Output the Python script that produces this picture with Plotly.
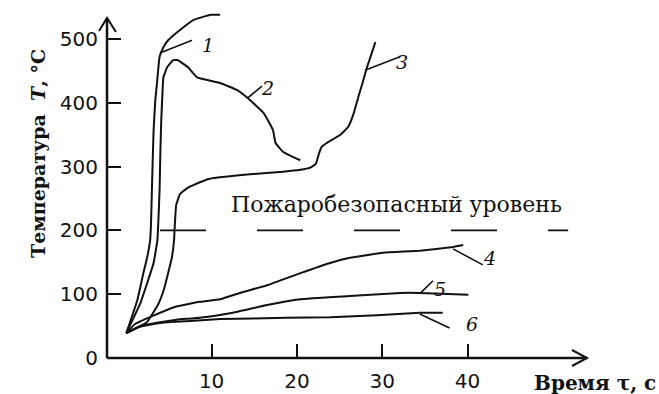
import plotly.graph_objects as go

# Temperature (°C) versus time (s) for six samples
t1 = [0, 1.3, 2.0, 2.45, 2.8, 2.9, 3.0, 3.2, 3.4, 3.6, 3.9, 4.35, 4.9, 6.0, 7.9, 9.9, 11.0]
T1 = [39, 91, 133, 158, 185, 212, 263, 357, 404, 431, 472, 487, 498, 511, 530, 538, 538]

t2 = [0, 1.65, 3.2, 3.65, 3.75, 3.9, 4.0, 4.1, 4.2, 4.35, 4.8, 5.5, 6.0, 7.2, 8.3,
      11.0, 13.0, 14.2, 16.1, 17.2, 17.5, 18.4, 20.4]
T2 = [39, 86, 149, 185, 212, 263, 326, 373, 404, 440, 456, 467, 467, 456, 440,
      431, 420, 408, 384, 357, 337, 323, 310]

t3 = [0, 2.4, 3.7, 4.4, 4.9, 5.35, 5.6, 5.7, 5.85, 6.3, 7.1, 7.85, 9.8, 14.5, 18.4,
      20.4, 21.5, 22.2, 22.6, 22.9, 23.5, 25.1, 26.0, 26.6, 27.2, 27.8, 28.2, 29.2]
T3 = [39, 56, 83, 107, 133, 158, 185, 212, 240, 257, 266, 271, 281, 288, 292,
      295, 298, 304, 321, 331, 337, 350, 362, 381, 409, 436, 455, 495]

t4 = [0, 1.0, 3.1, 5.7, 8.6, 11.0, 13.3, 16.5, 20.4, 23.9, 26.2, 30.1, 34.4, 38.3, 39.5]
T4 = [39, 53, 66, 80, 88, 92, 102, 114, 133, 149, 157, 165, 168, 174, 177]

t5 = [0, 1.6, 3.95, 5.9, 8.6, 12.5, 16.5, 20.4, 26.2, 32.1, 34.4, 40.1]
T5 = [39, 50, 56, 60, 63, 71, 83, 92, 97, 102, 102, 99]

t6 = [0, 1.6, 3.95, 7.5, 11.0, 18.8, 23.9, 29.4, 34.4, 37.1]
T6 = [39, 49, 55, 58, 61, 63, 64, 67, 71, 71]

# Fire-safe temperature level
safe_level = 200
safe_t = [3.95, 51.8]
safe_label = "Пожаробезопасный уровень"

# Curve numbers: label position and leader segment (from curve to label)
curve_names = ["1", "2", "3", "4", "5", "6"]
label_t = [9.6, 16.5, 32.3, 42.6, 36.8, 40.5]
label_T = [491, 423, 464, 157, 108, 53]
leader_t0 = [3.95, 14.27, 27.98, 38.3, 34.5, 34.4]
leader_T0 = [478, 408, 451, 171, 102, 69]
leader_t1 = [7.70, 15.91, 32.08, 41.8, 35.96, 37.9]
leader_T1 = [498, 426, 472, 146, 121, 47]

x_ticks = [10, 20, 30, 40]
y_ticks = [0, 100, 200, 300, 400, 500]

W, H = 659, 394
ML, MR, MT, MB = 107, 0, 8, 36
PW, PH = W - ML - MR, H - MT - MB


def px(x):
    return (x - ML) / PW


def py(y):
    return (H - MB - y) / PH


SERIF = "DejaVu Serif"
SANS = "DejaVu Sans"
INK = "#111111"

fig = go.Figure()
for t, T in [(t1, T1), (t2, T2), (t3, T3), (t4, T4), (t5, T5), (t6, T6)]:
    fig.add_trace(go.Scatter(
        x=t, y=T, mode="lines",
        line=dict(color=INK, width=2, shape="spline", smoothing=0.3),
        hoverinfo="skip"))

fig.add_trace(go.Scatter(
    x=safe_t, y=[safe_level, safe_level], mode="lines",
    line=dict(color=INK, width=1.6, dash="46px,51px"), hoverinfo="skip"))

shapes = []
# axes with open arrowheads
shapes.append(dict(type="line", xref="paper", yref="paper",
                   x0=0, x1=0, y0=0, y1=py(18), line=dict(color=INK, width=2.5)))
shapes.append(dict(type="line", xref="paper", yref="paper",
                   x0=0, x1=px(587), y0=0, y1=0, line=dict(color=INK, width=2.5)))
shapes.append(dict(type="path", xref="paper", yref="paper",
                   path=f"M {px(99)},{py(31)} L {px(107)},{py(18)} L {px(116)},{py(32)}",
                   line=dict(color=INK, width=2)))
shapes.append(dict(type="path", xref="paper", yref="paper",
                   path=f"M {px(572)},{py(350)} L {px(587)},{py(358)} L {px(572)},{py(366)}",
                   line=dict(color=INK, width=2)))
# leader lines for the curve numbers
for a, b, c, d in zip(leader_t0, leader_T0, leader_t1, leader_T1):
    shapes.append(dict(type="line", xref="x", yref="y", x0=a, y0=b, x1=c, y1=d,
                       line=dict(color=INK, width=1.6)))

annotations = []
for name, lx, ly in zip(curve_names, label_t, label_T):
    annotations.append(dict(x=lx, y=ly, xref="x", yref="y", text=f"<i>{name}</i>",
                            showarrow=False, font=dict(family=SERIF, size=19, color=INK)))

annotations.append(dict(x=31.7, y=240, xref="x", yref="y", text=safe_label,
                        showarrow=False, font=dict(family=SERIF, size=22, color=INK)))
annotations.append(dict(x=px(25), y=py(154), xref="paper", yref="paper",
                        text="Температура  <i>T</i>, °C", textangle=-90, showarrow=False,
                        font=dict(family=SERIF, size=19, color=INK, weight="bold")))
annotations.append(dict(x=px(658), y=py(383), xref="paper", yref="paper",
                        xanchor="right", yanchor="middle",
                        text="Время τ, с", showarrow=False,
                        font=dict(family=SERIF, size=20, color=INK, weight="bold")))

fig.update_layout(
    width=W, height=H,
    margin=dict(l=ML, r=MR, t=MT, b=MB),
    paper_bgcolor="white", plot_bgcolor="white",
    showlegend=False,
    shapes=shapes, annotations=annotations,
    xaxis=dict(range=[(ML - 126.3) / 8.53, (W - MR - 126.3) / 8.53],
               showgrid=False, zeroline=False, showline=False,
               ticks="inside", ticklen=14, tickwidth=2, tickcolor=INK,
               tickvals=x_ticks, ticktext=[str(v) for v in x_ticks],
               tickfont=dict(family=SANS, size=20, color=INK),
               ticklabelstandoff=9),
    yaxis=dict(range=[0, PH / 0.638],
               showgrid=False, zeroline=False, showline=False,
               ticks="inside", ticklen=14, tickwidth=2, tickcolor=INK,
               tickvals=y_ticks, ticktext=[str(v) for v in y_ticks],
               tickfont=dict(family=SANS, size=20, color=INK),
               ticklabelstandoff=8),
)

fig.write_html("out.html")
